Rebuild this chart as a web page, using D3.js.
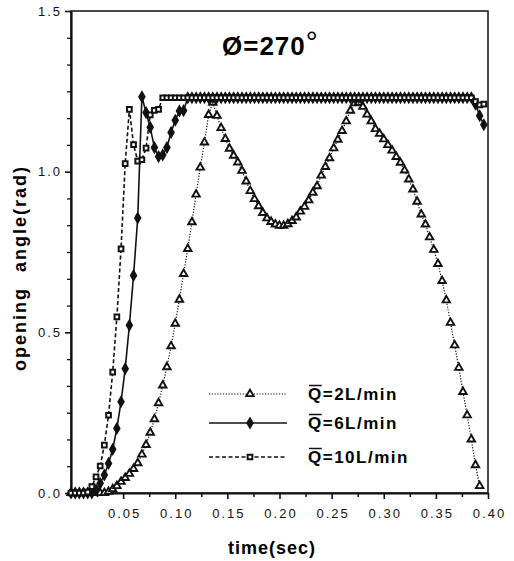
<!DOCTYPE html>
<html>
<head>
<meta charset="utf-8">
<script src="https://cdn.jsdelivr.net/npm/d3@7"></script>
<style>
  body { margin: 0; background: #fff; }
  svg { font-family: "Liberation Sans", Arial, sans-serif; }
  .tick text { font-size: 13px; letter-spacing: 2px; fill: #111; }
  .eje path, .eje line { stroke: #111; }
</style>
</head>
<body>
<div id="chart"></div>
<script>
// muestreo cada 0.004 s
const tStep = 0.004;

// Q = 2 L/min
const q2 = [
  0, 0, 0, 0, 0, 0, 0, 0, 0,
  0.004, 0.012, 0.022, 0.035, 0.047, 0.060, 0.075, 0.093, 0.120, 0.150,
  0.188, 0.230, 0.280, 0.335, 0.392, 0.457, 0.527, 0.602, 0.682, 0.760,
  0.843, 0.929, 1.013, 1.091, 1.177, 1.215, 1.174, 1.136, 1.102, 1.072,
  1.050, 1.029, 1.003, 0.970, 0.940, 0.915, 0.893, 0.872, 0.855, 0.844,
  0.836, 0.832, 0.832, 0.837, 0.847, 0.858, 0.876, 0.891, 0.911, 0.935,
  0.955, 0.988, 1.015, 1.042, 1.073, 1.100, 1.127, 1.157, 1.190, 1.213,
  1.215, 1.202, 1.178, 1.157, 1.133, 1.118, 1.101, 1.083, 1.066, 1.046,
  1.028, 1.004, 0.976, 0.945, 0.907, 0.867, 0.836, 0.796, 0.757, 0.713,
  0.660, 0.600, 0.530, 0.460, 0.390, 0.315, 0.242, 0.167, 0.087, 0.022
];

// Q = 6 L/min
const q6 = [
  0, 0, 0, 0, 0, 0, 0.010, 0.030, 0.056, 0.092,
  0.136, 0.201, 0.284, 0.387, 0.522, 0.677, 0.856, 1.233, 1.184, 1.138,
  1.075, 1.047, 1.052, 1.075, 1.122, 1.160, 1.189, 1.190, 1.23, 1.23,
  1.23, 1.23, 1.23, 1.23, 1.23, 1.23, 1.23, 1.23, 1.23, 1.23,
  1.23, 1.23, 1.23, 1.23, 1.23, 1.23, 1.23, 1.23, 1.23, 1.23,
  1.23, 1.23, 1.23, 1.23, 1.23, 1.23, 1.23, 1.23, 1.23, 1.23,
  1.23, 1.23, 1.23, 1.23, 1.23, 1.23, 1.23, 1.23, 1.23, 1.23,
  1.23, 1.23, 1.23, 1.23, 1.23, 1.23, 1.23, 1.23, 1.23, 1.23,
  1.23, 1.23, 1.23, 1.23, 1.23, 1.23, 1.23, 1.23, 1.23, 1.23,
  1.23, 1.23, 1.23, 1.23, 1.23, 1.23, 1.23, 1.21, 1.174, 1.146
];

// Q = 10 L/min
const q10 = [
  0, 0, 0, 0, 0.003, 0.020, 0.050, 0.084, 0.149, 0.242,
  0.376, 0.548, 0.760, 1.025, 1.194, 1.084, 1.033, 1.037, 1.073, 1.177,
  1.191, 1.194, 1.23, 1.23, 1.23, 1.23, 1.23, 1.23, 1.23, 1.23,
  1.23, 1.23, 1.23, 1.23, 1.23, 1.23, 1.23, 1.23, 1.23, 1.23,
  1.23, 1.23, 1.23, 1.23, 1.23, 1.23, 1.23, 1.23, 1.23, 1.23,
  1.23, 1.23, 1.23, 1.23, 1.23, 1.23, 1.23, 1.23, 1.23, 1.23,
  1.23, 1.23, 1.23, 1.23, 1.23, 1.23, 1.23, 1.23, 1.23, 1.23,
  1.23, 1.23, 1.23, 1.23, 1.23, 1.23, 1.23, 1.23, 1.23, 1.23,
  1.23, 1.23, 1.23, 1.23, 1.23, 1.23, 1.23, 1.23, 1.23, 1.23,
  1.23, 1.23, 1.23, 1.23, 1.23, 1.23, 1.23, 1.218, 1.208, 1.21
];

const xTicks = [0.05, 0.10, 0.15, 0.20, 0.25, 0.30, 0.35, 0.40];
const yTicks = [0.0, 0.5, 1.0, 1.5];
const legendLabels = ["=2L/min", "=6L/min", "=10L/min"];

const w = 514, h = 561;
const margin = { top: 11, right: 26, bottom: 68, left: 71 };

const svg = d3.select("#chart").append("svg")
  .attr("width", w)
  .attr("height", h);

const xScale = d3.scaleLinear()
  .domain([0, 0.4])
  .range([margin.left, w - margin.right]);

const yScale = d3.scaleLinear()
  .domain([0, 1.5])
  .range([h - margin.bottom, margin.top]);

// marco superior y derecho
svg.append("rect")
  .attr("x", xScale(0))
  .attr("y", yScale(1.5))
  .attr("width", xScale(0.4) - xScale(0))
  .attr("height", yScale(0) - yScale(1.5))
  .attr("fill", "none")
  .attr("stroke", "#111")
  .attr("stroke-width", 1.5);

// ejes: marcas menores
const xMinor = d3.range(1, 16, 2).map(i => i * 0.025);
const yMinor = d3.range(1, 18).filter(i => i % 6 != 0).map(i => i / 12);

svg.append("g")
  .attr("class", "eje")
  .attr("transform", `translate(0,${yScale(0)})`)
  .call(d3.axisBottom(xScale).tickValues(xMinor).tickSize(4).tickFormat(""))
  .call(g => g.select(".domain").remove())
  .selectAll("line").attr("stroke-width", 1.5);

svg.append("g")
  .attr("class", "eje")
  .attr("transform", `translate(${xScale(0)},0)`)
  .call(d3.axisLeft(yScale).tickValues(yMinor).tickSize(4).tickFormat(""))
  .call(g => g.select(".domain").remove())
  .selectAll("line").attr("stroke-width", 1.3);

// ejes principales
svg.append("g")
  .attr("class", "eje")
  .attr("transform", `translate(0,${yScale(0)})`)
  .call(d3.axisBottom(xScale).tickValues(xTicks).tickSize(6).tickSizeOuter(0)
    .tickPadding(10).tickFormat(d3.format(".2f")))
  .call(g => g.select(".domain").attr("stroke-width", 2))
  .call(g => g.selectAll("line").attr("stroke-width", 1.6))
  .call(g => g.selectAll("text").attr("dx", "1px"));

svg.append("g")
  .attr("class", "eje")
  .attr("transform", `translate(${xScale(0)},0)`)
  .call(d3.axisLeft(yScale).tickValues(yTicks).tickSize(6).tickSizeOuter(0)
    .tickPadding(3).tickFormat(d3.format(".1f")))
  .call(g => g.select(".domain").attr("stroke-width", 2.2))
  .call(g => g.selectAll("line").attr("stroke-width", 1.6));

// series
const series = [
  { values: q2, dash: "1.2,1.6", width: 1.2, symbol: d3.symbolTriangle, size: 24, fill: "#fff", sw: 1.9 },
  { values: q6, dash: null, width: 1.6, symbol: d3.symbolDiamond, size: 30, fill: "#111", sw: 1.5 },
  { values: q10, dash: "4,2.5", width: 1.6, symbol: d3.symbolSquare, size: 22, fill: "#fff", sw: 2 }
];

const line = d3.line()
  .x((d, i) => xScale(i * tStep))
  .y(d => yScale(d));

series.forEach(s => {
  svg.append("path")
    .datum(s.values)
    .attr("d", line)
    .attr("fill", "none")
    .attr("stroke", "#111")
    .attr("stroke-width", s.width)
    .attr("stroke-dasharray", s.dash);

  svg.append("g")
    .selectAll("path")
    .data(s.values)
    .enter()
    .append("path")
    .attr("transform", (d, i) => `translate(${xScale(i * tStep)},${yScale(d)})`)
    .attr("d", d3.symbol().type(s.symbol).size(s.size))
    .attr("fill", s.fill)
    .attr("stroke", "#111")
    .attr("stroke-width", s.sw);
});

// leyenda
const legendY = [394, 423, 457];
const leyenda = svg.append("g");
series.forEach((s, i) => {
  const y = legendY[i];
  leyenda.append("line")
    .attr("x1", 209).attr("x2", 287)
    .attr("y1", y).attr("y2", y)
    .attr("stroke", "#111")
    .attr("stroke-width", s.width)
    .attr("stroke-dasharray", s.dash);
  leyenda.append("path")
    .attr("transform", `translate(250,${y})`)
    .attr("d", d3.symbol().type(s.symbol).size(s.size))
    .attr("fill", s.fill)
    .attr("stroke", "#111")
    .attr("stroke-width", s.sw);
  const txt = leyenda.append("text")
    .attr("x", 308)
    .attr("y", y + 6)
    .style("font-size", "17px")
    .style("font-weight", "bold")
    .style("letter-spacing", "1.5px")
    .text("Q" + legendLabels[i]);
  const qw = txt.node().getSubStringLength(0, 1);
  leyenda.append("line")
    .attr("x1", 309).attr("x2", 307 + qw)
    .attr("y1", y - 8.5).attr("y2", y - 8.5)
    .attr("stroke", "#111")
    .attr("stroke-width", 1.5);
});

// título
const titulo = svg.append("text")
  .attr("x", 222)
  .attr("y", 55)
  .style("font-size", "26px")
  .style("font-weight", "bold")
  .style("letter-spacing", "1px")
  .text("Ø=270");
titulo.append("tspan")
  .attr("dy", "-3")
  .style("font-weight", "normal")
  .style("font-size", "30px")
  .text("°");

// etiquetas de ejes
svg.append("text")
  .attr("transform", `translate(26,268) rotate(-90)`)
  .style("text-anchor", "middle")
  .style("font-size", "18px")
  .style("font-weight", "bold")
  .style("letter-spacing", "2px")
  .style("word-spacing", "8px")
  .text("opening angle(rad)");

svg.append("text")
  .attr("x", 272)
  .attr("y", 554)
  .style("text-anchor", "middle")
  .style("font-size", "18px")
  .style("font-weight", "bold")
  .style("letter-spacing", "1px")
  .text("time(sec)");
</script>
</body>
</html>
